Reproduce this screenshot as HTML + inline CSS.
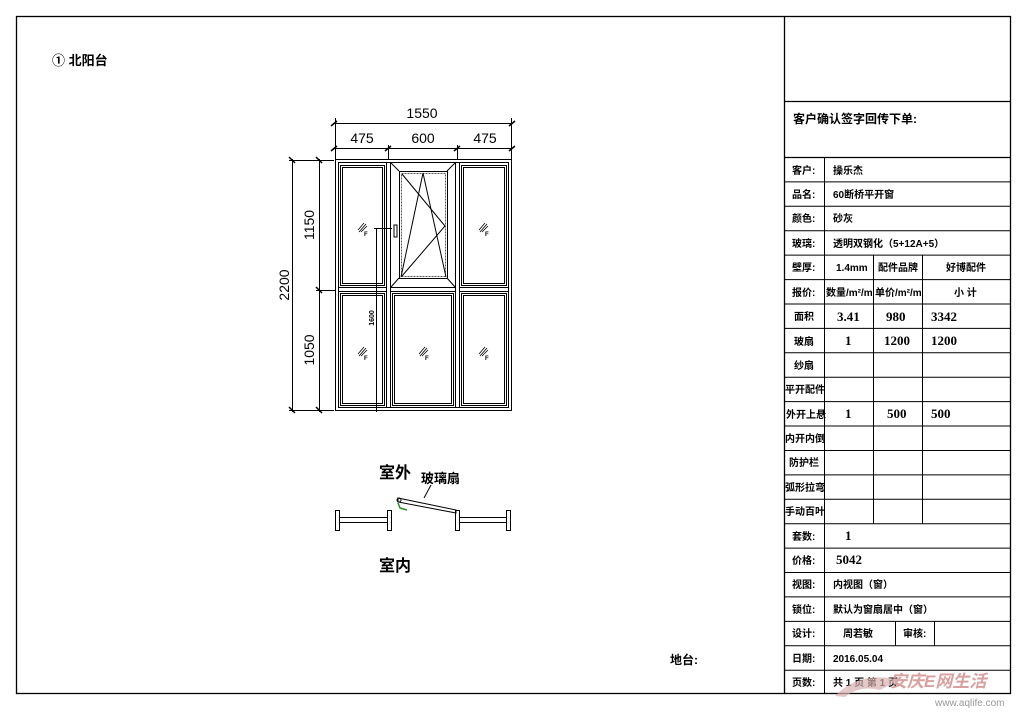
<!DOCTYPE html>
<html><head><meta charset="utf-8"><style>
html,body{margin:0;padding:0;background:#fff;}
svg{display:block;}
text{font-family:"Liberation Sans","Noto Sans CJK SC",sans-serif;fill:#000;}
.b{font-weight:bold;}
.t{font-size:10px;font-weight:bold;}
.n{font-family:"Liberation Serif","Noto Sans CJK SC",serif;font-size:13px;}
.d{font-family:"Liberation Sans Narrow","Liberation Sans",sans-serif;font-size:14px;}
</style></head><body>
<svg width="1025" height="715" viewBox="0 0 1025 715" xmlns="http://www.w3.org/2000/svg">
<defs>
<g id="gm"><line x1="-4" y1="3" x2="2" y2="-4" stroke="#000" stroke-width="0.8"/><line x1="-3" y1="5" x2="4" y2="-3" stroke="#000" stroke-width="0.8"/><line x1="-1" y1="5" x2="5" y2="-1" stroke="#000" stroke-width="0.8"/><text x="2" y="9" font-size="6" font-weight="bold">F</text></g>
</defs>
<rect x="16.5" y="16.5" width="994" height="677" fill="none" stroke="#000" stroke-width="1.3"/>
<line x1="784.5" y1="16" x2="784.5" y2="694" stroke="#000" stroke-width="1.3"/>
<line x1="784" y1="101.5" x2="1011" y2="101.5" stroke="#000" stroke-width="1.3"/>
<line x1="784" y1="157.5" x2="1011" y2="157.5" stroke="#000" stroke-width="1.3"/>
<text x="793" y="123" class="b" font-size="12">客户确认签字回传下单:</text>
<text x="52" y="65" class="b" font-size="13">① 北阳台</text>
<text x="670" y="664" class="b" font-size="12">地台:</text>

<!-- table -->
<g stroke="#000" stroke-width="1">
<line x1="784" y1="181.9" x2="1011" y2="181.9"/>
<line x1="784" y1="206.3" x2="1011" y2="206.3"/>
<line x1="784" y1="230.7" x2="1011" y2="230.7"/>
<line x1="784" y1="255.1" x2="1011" y2="255.1"/>
<line x1="784" y1="279.6" x2="1011" y2="279.6"/>
<line x1="784" y1="304" x2="1011" y2="304"/>
<line x1="784" y1="328.4" x2="1011" y2="328.4"/>
<line x1="784" y1="352.8" x2="1011" y2="352.8"/>
<line x1="784" y1="377.2" x2="1011" y2="377.2"/>
<line x1="784" y1="401.6" x2="1011" y2="401.6"/>
<line x1="784" y1="426" x2="1011" y2="426"/>
<line x1="784" y1="450.5" x2="1011" y2="450.5"/>
<line x1="784" y1="474.9" x2="1011" y2="474.9"/>
<line x1="784" y1="499.3" x2="1011" y2="499.3"/>
<line x1="784" y1="523.7" x2="1011" y2="523.7"/>
<line x1="784" y1="548.1" x2="1011" y2="548.1"/>
<line x1="784" y1="572.5" x2="1011" y2="572.5"/>
<line x1="784" y1="596.9" x2="1011" y2="596.9"/>
<line x1="784" y1="621.4" x2="1011" y2="621.4"/>
<line x1="784" y1="645.8" x2="1011" y2="645.8"/>
<line x1="784" y1="670.2" x2="1011" y2="670.2"/>
<line x1="824.5" y1="157" x2="824.5" y2="694"/>
<line x1="873.5" y1="255" x2="873.5" y2="523.7"/>
<line x1="922.5" y1="255" x2="922.5" y2="523.7"/>
<line x1="895.5" y1="621.4" x2="895.5" y2="645.8"/>
<line x1="934.5" y1="621.4" x2="934.5" y2="645.8"/>
</g>
<g class="t">
<text x="792" y="174" class="t">客户:</text><text x="833" y="174" class="t">操乐杰</text>
<text x="792" y="198" class="t">品名:</text><text x="833" y="198" class="t">60断桥平开窗</text>
<text x="792" y="222" class="t">颜色:</text><text x="833" y="222" class="t">砂灰</text>
<text x="792" y="247" class="t">玻璃:</text><text x="833" y="247" class="t">透明双钢化（5+12A+5）</text>
<text x="792" y="271" class="t">壁厚:</text><text x="836" y="271" class="t">1.4mm</text><text x="878" y="271" class="t">配件品牌</text><text x="946" y="271" class="t">好博配件</text>
<text x="792" y="296" class="t">报价:</text><text x="826" y="296" class="t" font-size="9">数量/m²/m</text><text x="875" y="296" class="t" font-size="9">单价/m²/m</text><text x="954" y="296" class="t">小 计</text>
<text x="794" y="320" class="t">面积</text><text x="837" y="321" class="n">3.41</text><text x="886" y="321" class="n">980</text><text x="931" y="321" class="n">3342</text>
<text x="794" y="345" class="t">玻扇</text><text x="845" y="345" class="n">1</text><text x="884" y="345" class="n">1200</text><text x="931" y="345" class="n">1200</text>
<text x="794" y="369" class="t">纱扇</text>
<text x="785" y="393" class="t" font-size="9">平开配件</text>
<text x="786" y="418" class="t" font-size="9">外开上悬</text><text x="845" y="418" class="n">1</text><text x="887" y="418" class="n">500</text><text x="931" y="418" class="n">500</text>
<text x="785" y="442" class="t" font-size="9">内开内倒</text>
<text x="789" y="466" class="t">防护栏</text>
<text x="785" y="491" class="t" font-size="9">弧形拉弯</text>
<text x="785" y="515" class="t" font-size="9">手动百叶</text>
<text x="792" y="540" class="t">套数:</text><text x="845" y="540" class="n">1</text>
<text x="792" y="564" class="t">价格:</text><text x="836" y="564" class="n">5042</text>
<text x="792" y="588" class="t">视图:</text><text x="833" y="588" class="t">内视图（窗）</text>
<text x="792" y="613" class="t">锁位:</text><text x="833" y="613" class="t">默认为窗扇居中（窗）</text>
<text x="792" y="637" class="t">设计:</text><text x="843" y="637" class="t">周若敏</text><text x="903" y="637" class="t">审核:</text>
<text x="792" y="662" class="t">日期:</text><text x="833" y="662" class="t" font-size="9">2016.05.04</text>
<text x="792" y="686" class="t">页数:</text><text x="833" y="686" class="t">共 1 页 第 1 页</text>
</g>
<!-- watermark -->
<text x="890" y="687" font-size="17" font-weight="bold" font-style="italic" fill="#d9a0a0" style="fill:#d9a0a0">安庆E网生活</text>
<text x="935" y="706" font-size="10" style="fill:#999">www.aqlife.com</text>
<path d="M835 696 Q860 670 900 680 L880 690 Q860 685 845 697 Z" fill="#d8b0b0" opacity="0.7"/>

<!-- window -->
<g fill="none" stroke="#000" stroke-width="1">
<rect x="335.5" y="159.5" width="176" height="251"/>
<rect x="338.5" y="162.5" width="170" height="245"/>
<!-- mullions -->
<rect x="386.5" y="162.5" width="4" height="245"/>
<rect x="455.5" y="162.5" width="4" height="245"/>
<rect x="338.5" y="287.5" width="48" height="4"/>
<rect x="459.5" y="287.5" width="49" height="4"/>
<rect x="390.5" y="287.5" width="65" height="4"/>
<!-- panes -->
<rect x="340.5" y="165.5" width="44" height="120"/><rect x="342.5" y="167.5" width="40" height="116"/>
<rect x="461.5" y="165.5" width="45" height="120"/><rect x="463.5" y="167.5" width="41" height="116"/>
<rect x="340.5" y="293.5" width="44" height="112"/><rect x="342.5" y="295.5" width="40" height="108"/>
<rect x="461.5" y="293.5" width="45" height="112"/><rect x="463.5" y="295.5" width="41" height="108"/>
<rect x="392.5" y="293.5" width="61" height="112"/><rect x="394.5" y="295.5" width="57" height="108"/>
<!-- sash -->
<line x1="391" y1="163" x2="399" y2="171"/><line x1="455" y1="163" x2="447" y2="171"/>
<line x1="391" y1="287" x2="399" y2="278"/><line x1="455" y1="287" x2="447" y2="278"/>
<rect x="399.5" y="171.5" width="48" height="107"/>
<rect x="401.5" y="173.5" width="44" height="103" stroke-dasharray="2,1" stroke="#555"/>
<polyline points="402,174 445,226 402,276"/>
<polyline points="401,277 423,173 446,277"/>
<!-- handle -->
<rect x="394" y="225" width="3" height="12"/>
<!-- dimensions -->
<line x1="333" y1="123.5" x2="512" y2="123.5"/>
<line x1="333" y1="148.5" x2="512" y2="148.5"/>
<line x1="335.5" y1="118" x2="335.5" y2="159"/>
<line x1="511.5" y1="118" x2="511.5" y2="159"/>
<line x1="388.5" y1="145" x2="388.5" y2="160"/>
<line x1="457.5" y1="145" x2="457.5" y2="160"/>
<line x1="292.5" y1="159" x2="292.5" y2="412"/>
<line x1="319.5" y1="159" x2="319.5" y2="412"/>
<line x1="289" y1="160.5" x2="334" y2="160.5"/>
<line x1="289" y1="410.5" x2="334" y2="410.5"/>
<line x1="316" y1="290.5" x2="336" y2="290.5"/>
<line x1="376.5" y1="228" x2="376.5" y2="412"/>
<line x1="374" y1="228.5" x2="392" y2="228.5"/>
</g>
<g stroke="#000" stroke-width="1.5">
<line x1="331" y1="126" x2="337" y2="121"/><line x1="509" y1="126" x2="515" y2="121"/>
<line x1="331" y1="151" x2="337" y2="146"/><line x1="385" y1="151" x2="391" y2="146"/><line x1="454" y1="151" x2="460" y2="146"/><line x1="509" y1="151" x2="515" y2="146"/>
<line x1="289" y1="157" x2="295" y2="163"/><line x1="289" y1="407" x2="295" y2="413"/>
<line x1="316" y1="157" x2="322" y2="163"/><line x1="316" y1="287" x2="322" y2="293"/><line x1="316" y1="407" x2="322" y2="413"/>
</g>
<text x="422" y="118" text-anchor="middle" class="d">1550</text>
<text x="362" y="143" text-anchor="middle" class="d">475</text>
<text x="423" y="143" text-anchor="middle" class="d">600</text>
<text x="485" y="143" text-anchor="middle" class="d">475</text>
<text transform="translate(289,285) rotate(-90)" text-anchor="middle" class="d">2200</text>
<text transform="translate(314,225) rotate(-90)" text-anchor="middle" class="d">1150</text>
<text transform="translate(314,350) rotate(-90)" text-anchor="middle" class="d">1050</text>
<text transform="translate(374,318) rotate(-90)" text-anchor="middle" font-size="7" font-weight="bold">1600</text>
<use href="#gm" x="362" y="227"/>
<use href="#gm" x="483" y="227"/>
<use href="#gm" x="362" y="351"/>
<use href="#gm" x="423" y="351"/>
<use href="#gm" x="483" y="351"/>

<!-- section -->
<g fill="none" stroke="#000" stroke-width="1">
<rect x="335.5" y="510.5" width="4" height="20"/>
<rect x="339.5" y="517.5" width="48" height="5"/>
<rect x="387.5" y="510.5" width="4" height="20"/>
<rect x="455.5" y="510.5" width="4" height="20"/>
<rect x="459.5" y="517.5" width="47" height="5"/>
<rect x="506.5" y="510.5" width="4" height="20"/>
<polygon points="398,498 456,510 456,513 398,502"/>
<circle cx="399" cy="500" r="2"/>
<line x1="431" y1="485" x2="424" y2="498"/>
</g>
<path d="M398 503 L400 508 L407 510" fill="none" stroke="#2a8a2a" stroke-width="1.5"/>
<text x="379" y="478" class="b" font-size="16">室外</text>
<text x="421" y="483" class="b" font-size="13">玻璃扇</text>
<text x="379" y="571" class="b" font-size="16">室内</text>
</svg>
</body></html>
